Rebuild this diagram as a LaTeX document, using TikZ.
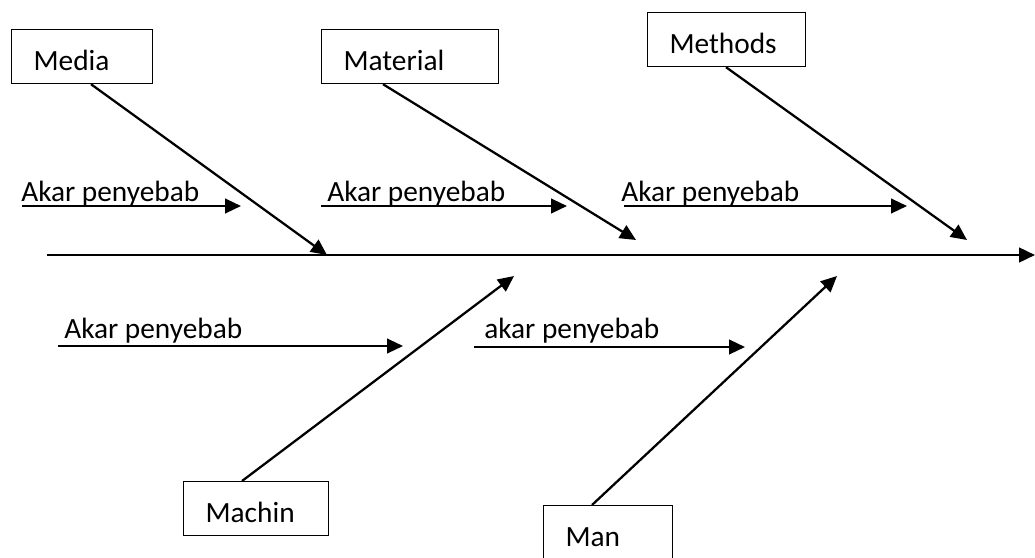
\documentclass[tikz,border=0pt]{standalone}
\usepackage{fontspec}
\setmainfont{Carlito}
\usetikzlibrary{arrows.meta}
\begin{document}
\begin{tikzpicture}[x=0.75pt,y=-0.75pt,
  box/.style={draw, line width=0.9pt, inner xsep=16.5pt, inner ysep=0pt, align=left, text height=30.75pt, text depth=9.75pt, font=\fontsize{22}{24}\selectfont},
  lbl/.style={inner sep=0pt, font=\fontsize{22}{24}\selectfont},
  bone/.style={line width=1.7pt, -{Triangle[length=12pt,width=11pt]}},
  spine/.style={line width=1.9pt, -{Triangle[length=12pt,width=11pt]}}]
\useasboundingbox (0,0) rectangle (1035,557);
% boxes
\node[box, text width=72.75pt, anchor=north west] (media) at (11,29) {Media};
\node[box, text width=99.75pt, anchor=north west] (material) at (321,29) {Material};
\node[box, text width=85.5pt, anchor=north west] (methods) at (647,12) {Methods};
\node[box, text width=75.75pt, anchor=north west] (machin) at (183,481) {Machin};
\node[box, text width=63.75pt, anchor=north west] (man) at (543,505) {Man};
% spine
\coordinate (spineS) at (47,255);
\coordinate (spineE) at (1035,255);
\draw[spine] (spineS) -- (spineE);
% tips
\coordinate (mediaT) at (327,255);
\coordinate (materialT) at (636,240);
\coordinate (methodsT) at (967,240);
\coordinate (machinT) at (514,276);
\coordinate (manT) at (837,276);
\draw[bone] ([xshift=60pt]media.south west) -- (mediaT);
\draw[bone] ([xshift=46.5pt]material.south west) -- (materialT);
\draw[bone] ([xshift=59.25pt]methods.south west) -- (methodsT);
\draw[bone] ([xshift=44.25pt]machin.north west) -- (machinT);
\draw[bone] ([xshift=36.75pt]man.north west) -- (manT);
% root-cause arrows
\coordinate (a1s) at (22,206); \coordinate (a1e) at (241,206);
\coordinate (a2s) at (321,206); \coordinate (a2e) at (567,206);
\coordinate (a3s) at (624,206); \coordinate (a3e) at (907,206);
\coordinate (a4s) at (58,346); \coordinate (a4e) at (403,346);
\coordinate (a5s) at (474,347); \coordinate (a5e) at (745,347);
\draw[bone] (a1s) -- (a1e);
\draw[bone] (a2s) -- (a2e);
\draw[bone] (a3s) -- (a3e);
\draw[bone] (a4s) -- (a4e);
\draw[bone] (a5s) -- (a5e);
\node[lbl, anchor=base west] (t1) at (21,201) {Akar penyebab};
\node[lbl, anchor=base west] (t2) at (327,201) {Akar penyebab};
\node[lbl, anchor=base west] (t3) at (621,201) {Akar penyebab};
\node[lbl, anchor=base west] (t4) at (64,338) {Akar penyebab};
\node[lbl, anchor=base west] (t5) at (484,338) {akar penyebab};
\end{tikzpicture}
\end{document}
